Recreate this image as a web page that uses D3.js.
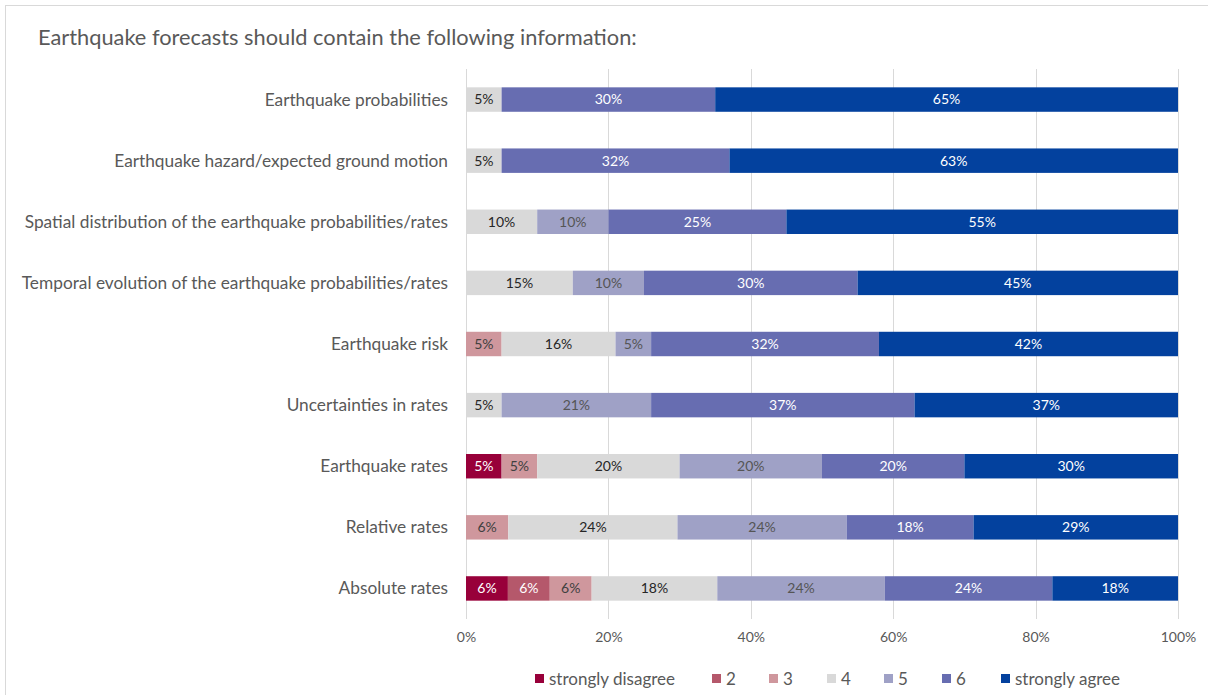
<!DOCTYPE html>
<html>
<head>
<meta charset="utf-8">
<script src="https://cdn.jsdelivr.net/npm/d3@7"></script>
<style>
  html, body { margin: 0; padding: 0; background: #fff; }
  svg { display: block; font-family: Lato, "Open Sans", sans-serif; }
</style>
</head>
<body>
<svg id="chart" width="1208" height="695"></svg>
<script>
// Survey answers per information item (percent of respondents)
const categories = [
  "Earthquake probabilities",
  "Earthquake hazard/expected ground motion",
  "Spatial distribution of the earthquake probabilities/rates",
  "Temporal evolution of the earthquake probabilities/rates",
  "Earthquake risk",
  "Uncertainties in rates",
  "Earthquake rates",
  "Relative rates",
  "Absolute rates"
];
const seriesNames = ["strongly disagree", "2", "3", "4", "5", "6", "strongly agree"];
const stronglyDisagree = [0, 0, 0, 0, 0, 0, 5, 0, 6];
const level2          = [0, 0, 0, 0, 0, 0, 0, 0, 6];
const level3          = [0, 0, 0, 0, 5, 0, 5, 6, 6];
const level4          = [5, 5, 10, 15, 16, 5, 20, 24, 18];
const level5          = [0, 0, 10, 10, 5, 21, 20, 24, 24];
const level6          = [30, 32, 25, 30, 32, 37, 20, 18, 24];
const stronglyAgree   = [65, 63, 55, 45, 42, 37, 30, 29, 18];
const tickLabels = ["0%", "20%", "40%", "60%", "80%", "100%"];

const seriesValues = [stronglyDisagree, level2, level3, level4, level5, level6, stronglyAgree];
const colors = ["#98003A", "#B5586B", "#CF979D", "#D9D9D9", "#9FA1C6", "#676DB1", "#03419E"];
const labelColors = ["#fff", "#fff", "#404040", "#262626", "#555555", "#fff", "#fff"];

const rows = categories.map((c, i) => {
  const r = { category: c };
  seriesNames.forEach((s, j) => { r[s] = seriesValues[j][i]; });
  return r;
});

const svg = d3.select("#chart");

// outer frame
svg.append("rect")
  .attr("x", 5.5).attr("y", 5.5)
  .attr("width", 1220).attr("height", 720)
  .attr("fill", "none").attr("stroke", "#d9d9d9");

svg.append("text")
  .attr("x", 38).attr("y", 45)
  .attr("fill", "#595959")
  .attr("font-size", 21.8)
  .text("Earthquake forecasts should contain the following information:");

const x = d3.scaleLinear().domain([0, 1]).range([466, 1178]);
const y = d3.scaleBand().domain(categories).range([69, 619]).paddingInner(0.6).paddingOuter(0.3);

// gridlines
const gridTicks = d3.range(0, 1.0001, 0.2);
svg.append("g").selectAll("line")
  .data(gridTicks).join("line")
  .attr("x1", d => Math.round(x(d)) + 0.5).attr("x2", d => Math.round(x(d)) + 0.5)
  .attr("y1", 69).attr("y2", 619)
  .attr("stroke", "#d9d9d9").attr("stroke-width", 1);

// 100% stacked bars
const stack = d3.stack().keys(seriesNames).offset(d3.stackOffsetExpand);
const layers = stack(rows);

const gLayers = svg.append("g").selectAll("g")
  .data(layers).join("g")
  .attr("fill", (d, i) => colors[i]);

gLayers.selectAll("rect")
  .data(d => d.map(p => ({ p, key: d.key })))
  .join("rect")
  .attr("x", d => x(d.p[0]))
  .attr("y", d => y(d.p.data.category))
  .attr("width", d => x(d.p[1]) - x(d.p[0]))
  .attr("height", y.bandwidth());

// value labels
layers.forEach((layer, i) => {
  svg.append("g").selectAll("text")
    .data(layer.filter(p => p.data[layer.key] > 0))
    .join("text")
    .attr("x", p => (x(p[0]) + x(p[1])) / 2)
    .attr("y", p => y(p.data.category) + y.bandwidth() / 2)
    .attr("dy", "0.35em")
    .attr("text-anchor", "middle")
    .attr("font-size", 14)
    .attr("fill", labelColors[i])
    .text(p => p.data[layer.key] + "%");
});

// category axis labels
svg.append("g").selectAll("text")
  .data(categories).join("text")
  .attr("x", 448)
  .attr("y", d => y(d) + y.bandwidth() / 2)
  .attr("dy", "0.35em")
  .attr("text-anchor", "end")
  .attr("font-size", 17.3)
  .attr("fill", "#595959")
  .text(d => d);

// percentage axis
const xAxis = d3.axisBottom(x)
  .tickValues(gridTicks)
  .tickFormat((d, i) => tickLabels[i])
  .tickSize(0)
  .tickPadding(10);
const ax = svg.append("g").attr("transform", "translate(0,622)").call(xAxis);
ax.select(".domain").remove();
ax.selectAll("text")
  .attr("font-family", "Lato, 'Open Sans', sans-serif")
  .attr("font-size", 14)
  .attr("fill", "#595959");

// legend
const legendX = [535, 712, 769, 827, 884, 942, 1001];
const legend = svg.append("g").selectAll("g")
  .data(seriesNames).join("g")
  .attr("transform", (d, i) => `translate(${legendX[i]},679)`);
legend.append("rect")
  .attr("x", 0).attr("y", -5)
  .attr("width", 9).attr("height", 9)
  .attr("fill", (d, i) => colors[i]);
legend.append("text")
  .attr("x", 14).attr("y", 0)
  .attr("dy", "0.35em")
  .attr("font-size", 17)
  .attr("fill", "#595959")
  .text(d => d);
</script>
</body>
</html>
